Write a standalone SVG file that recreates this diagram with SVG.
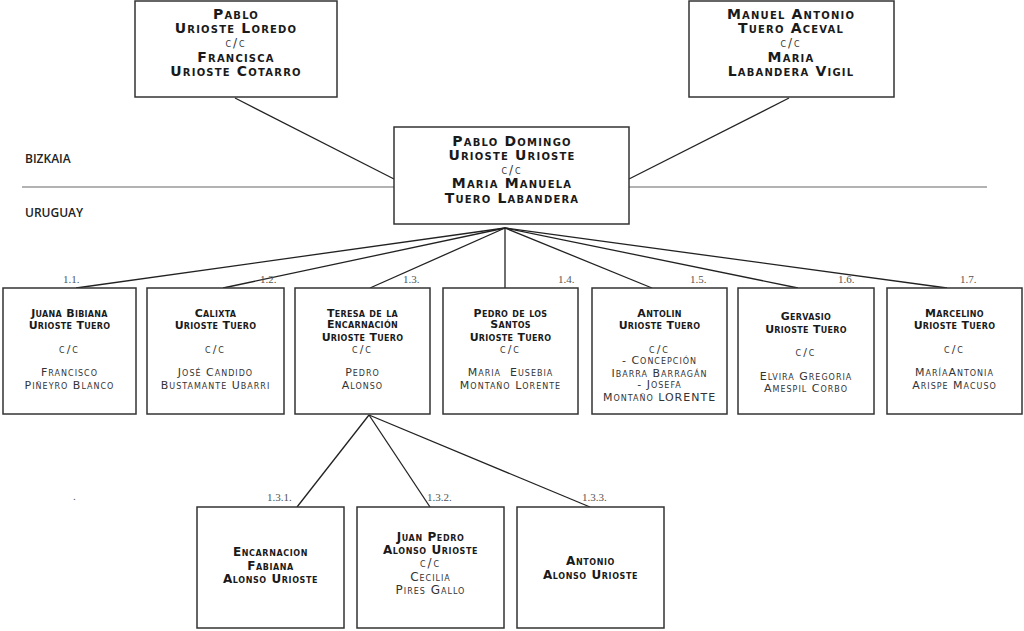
<svg xmlns="http://www.w3.org/2000/svg" width="1024" height="631" viewBox="0 0 1024 631">
<style>
.box{fill:#fff;stroke:#333;stroke-width:1.5}
.conn{stroke:#222;stroke-width:1.3;fill:none}
.sep{stroke:#999;stroke-width:1.5}
.t{font-family:"DejaVu Sans",sans-serif;font-variant:small-caps;text-anchor:middle;fill:#1a1a1a}
.big{font-size:14px;font-weight:bold;letter-spacing:1.2px}
.bcc{font-size:12px;letter-spacing:2px;fill:#333}
.mid{font-size:12px;font-weight:bold;letter-spacing:0.6px}
.nm{font-size:11px;font-weight:bold;letter-spacing:0.3px}
.sp{font-size:11px;letter-spacing:1px;fill:#333}
.cc{font-size:11px;letter-spacing:2px;fill:#333}
.num{font-family:"Liberation Serif",serif;font-size:11px;fill:#555}
.reg{font-family:"Open Sans",sans-serif;font-size:12px;font-weight:600;fill:#222}
</style>
<line class="sep" x1="22" y1="187" x2="987" y2="187"/>
<text class="reg" x="25" y="163">BIZKAIA</text>
<text class="reg" x="25" y="217">URUGUAY</text>
<text class="num" x="73" y="500">.</text>
<g id="connectors">
<line class="conn" x1="235" y1="98" x2="394" y2="179"/>
<line class="conn" x1="789" y1="98" x2="629" y2="179"/>
<line class="conn" x1="505" y1="228" x2="76" y2="288"/>
<line class="conn" x1="505" y1="228" x2="223" y2="288"/>
<line class="conn" x1="505" y1="228" x2="370" y2="288"/>
<line class="conn" x1="505" y1="228" x2="505" y2="288"/>
<line class="conn" x1="505" y1="228" x2="652" y2="288"/>
<line class="conn" x1="505" y1="228" x2="798" y2="288"/>
<line class="conn" x1="505" y1="228" x2="947" y2="288"/>
<line class="conn" x1="369" y1="415" x2="297" y2="507"/>
<line class="conn" x1="369" y1="415" x2="430" y2="507"/>
<line class="conn" x1="369" y1="415" x2="590" y2="507"/>
</g>
<g id="labels">
<text class="num" x="63" y="283">1.1.</text>
<text class="num" x="260" y="283">1.2.</text>
<text class="num" x="403" y="283">1.3.</text>
<text class="num" x="558" y="283">1.4.</text>
<text class="num" x="690" y="283">1.5.</text>
<text class="num" x="838" y="283">1.6.</text>
<text class="num" x="960" y="283">1.7.</text>
<text class="num" x="267" y="501">1.3.1.</text>
<text class="num" x="427" y="501">1.3.2.</text>
<text class="num" x="582" y="501">1.3.3.</text>
</g>
<g id="n-pablo-francisca">
<rect class="box" x="135" y="1" width="202" height="96"/>
<text class="t big" x="236" y="19">Pablo</text>
<text class="t big" x="236" y="33">Urioste  Loredo</text>
<text class="t bcc" x="236" y="47">c/c</text>
<text class="t big" x="236" y="62">Francisca</text>
<text class="t big" x="236" y="76">Urioste Cotarro</text>
</g>
<g id="n-manuel-maria">
<rect class="box" x="689" y="1" width="205" height="96"/>
<text class="t big" x="791" y="19">Manuel Antonio</text>
<text class="t big" x="791" y="33">Tuero Aceval</text>
<text class="t bcc" x="791" y="47">c/c</text>
<text class="t big" x="791" y="62">Maria</text>
<text class="t big" x="791" y="76">Labandera Vigil</text>
</g>
<g id="n-pablo-domingo">
<rect class="box" x="394" y="127" width="235" height="97"/>
<text class="t big" x="512" y="146">Pablo Domingo</text>
<text class="t big" x="512" y="160">Urioste Urioste</text>
<text class="t bcc" x="512" y="174">c/c</text>
<text class="t big" x="512" y="188">Maria Manuela</text>
<text class="t big" x="512" y="203">Tuero Labandera</text>
</g>
<g id="n-1-1">
<rect class="box" x="3" y="288" width="133" height="126"/>
<text class="t nm" x="69.5" y="317">Juana Bibiana</text>
<text class="t nm" x="69.5" y="329">Urioste Tuero</text>
<text class="t cc" x="69.5" y="353">c/c</text>
<text class="t sp" x="69.5" y="376">Francisco</text>
<text class="t sp" x="69.5" y="389">Piñeyro Blanco</text>
</g>
<g id="n-1-2">
<rect class="box" x="147" y="288" width="137" height="126"/>
<text class="t nm" x="215.5" y="317">Calixta</text>
<text class="t nm" x="215.5" y="329">Urioste Tuero</text>
<text class="t cc" x="215.5" y="353">c/c</text>
<text class="t sp" x="215.5" y="376">José Candido</text>
<text class="t sp" x="215.5" y="389">Bustamante Ubarri</text>
</g>
<g id="n-1-3">
<rect class="box" x="295" y="288" width="135" height="126"/>
<text class="t nm" x="362.5" y="317">Teresa de la</text>
<text class="t nm" x="362.5" y="328">Encarnación</text>
<text class="t nm" x="362.5" y="341">Urioste Tuero</text>
<text class="t cc" x="362.5" y="353">c/c</text>
<text class="t sp" x="362.5" y="376">Pedro</text>
<text class="t sp" x="362.5" y="389">Alonso</text>
</g>
<g id="n-1-4">
<rect class="box" x="443" y="288" width="135" height="126"/>
<text class="t nm" x="510.5" y="317">Pedro de los</text>
<text class="t nm" x="510.5" y="328">Santos</text>
<text class="t nm" x="510.5" y="341">Urioste Tuero</text>
<text class="t cc" x="510.5" y="353">c/c</text>
<text class="t sp" x="510.5" y="376" xml:space="preserve">Maria  Eusebia</text>
<text class="t sp" x="510.5" y="389">Montaño Lorente</text>
</g>
<g id="n-1-5">
<rect class="box" x="592" y="288" width="135" height="126"/>
<text class="t nm" x="659.5" y="317">Antolin</text>
<text class="t nm" x="659.5" y="329">Urioste Tuero</text>
<text class="t cc" x="659.5" y="353">c/c</text>
<text class="t sp" x="659.5" y="364">- Concepción</text>
<text class="t sp" x="659.5" y="377">Ibarra Barragán</text>
<text class="t sp" x="659.5" y="388">- Josefa</text>
<text class="t sp" x="659.5" y="401">Montaño LORENTE</text>
</g>
<g id="n-1-6">
<rect class="box" x="738" y="288" width="136" height="126"/>
<text class="t nm" x="806" y="320">Gervasio</text>
<text class="t nm" x="806" y="333">Urioste Tuero</text>
<text class="t cc" x="806" y="356">c/c</text>
<text class="t sp" x="806" y="380">Elvira Gregoria</text>
<text class="t sp" x="806" y="392">Amespil Corbo</text>
</g>
<g id="n-1-7">
<rect class="box" x="887" y="288" width="135" height="126"/>
<text class="t nm" x="954.5" y="317">Marcelino</text>
<text class="t nm" x="954.5" y="329">Urioste Tuero</text>
<text class="t cc" x="954.5" y="353">c/c</text>
<text class="t sp" x="954.5" y="376">MaríaAntonia</text>
<text class="t sp" x="954.5" y="389">Arispe Macuso</text>
</g>
<g id="n-1-3-1">
<rect class="box" x="197" y="507" width="147" height="121"/>
<text class="t mid" x="270.5" y="556">Encarnacion</text>
<text class="t mid" x="270.5" y="570">Fabiana</text>
<text class="t mid" x="270.5" y="583">Alonso Urioste</text>
</g>
<g id="n-1-3-2">
<rect class="box" x="357" y="507" width="147" height="121"/>
<text class="t mid" x="430.5" y="541">Juan Pedro</text>
<text class="t mid" x="430.5" y="554">Alonso Urioste</text>
<text class="t bcc" x="430.5" y="567">c/c</text>
<text class="t sp" style="font-size:12px" x="430.5" y="581">Cecilia</text>
<text class="t sp" style="font-size:12px" x="430.5" y="594">Pires Gallo</text>
</g>
<g id="n-1-3-3">
<rect class="box" x="517" y="507" width="147" height="121"/>
<text class="t mid" x="590.5" y="565">Antonio</text>
<text class="t mid" x="590.5" y="579">Alonso Urioste</text>
</g>
</svg>
